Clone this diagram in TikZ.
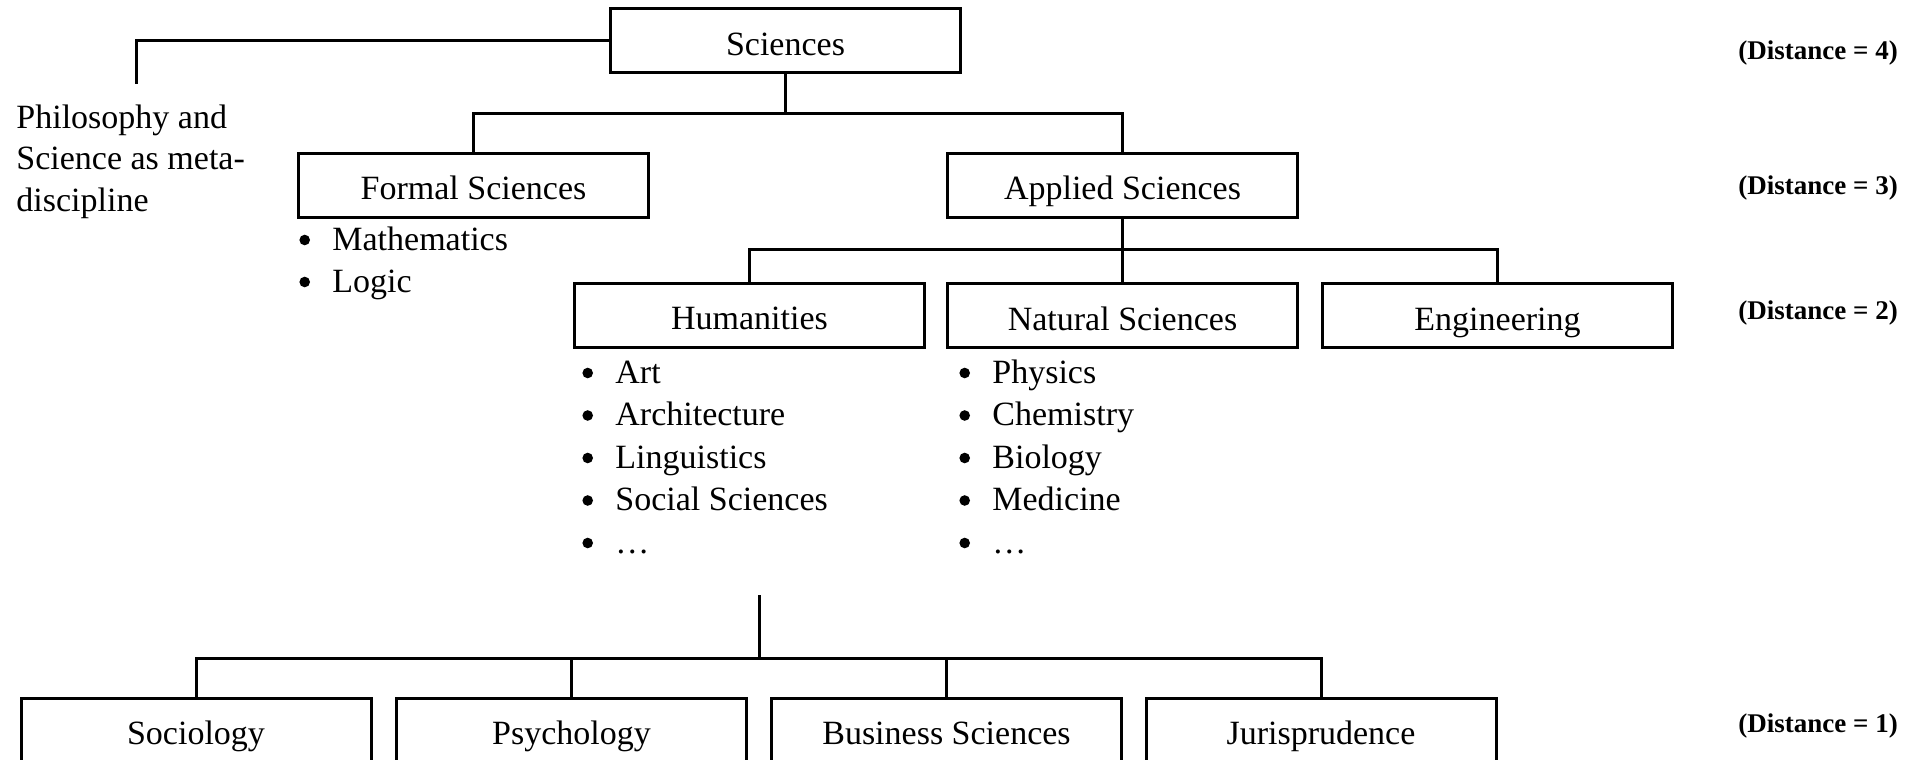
\documentclass[tikz,border=0pt]{standalone}
\usepackage{fontspec}
\setmainfont{Liberation Serif}
\begin{document}
\begin{tikzpicture}[x=0.5pt,y=-0.5pt,
  box/.style={draw, line width=1.5pt, minimum width=175pt, minimum height=32pt, inner sep=0pt,
    font=\fontsize{17}{20}\selectfont, text height=17pt, text depth=2.5pt},
  conn/.style={line width=1.5pt},
  txt/.style={font=\fontsize{17}{20.75}\selectfont, inner sep=0pt, anchor=base west},
  dist/.style={font=\fontsize{13.5}{16}\selectfont\bfseries, inner sep=0pt, anchor=base west}]
\useasboundingbox (0,0) rectangle (1919,760);
\clip (0,0) rectangle (1919,760);

% boxes
\node[box] (sci) at (785.5,40.5) {Sciences};
\node[box] (formal) at (473.5,185) {Formal Sciences};
\node[box] (applied) at (1122.5,185) {Applied Sciences};
\node[box] (hum) at (749.5,315) {Humanities};
\node[box] (nat) at (1122.5,315.5) {Natural Sciences};
\node[box] (eng) at (1497.5,315.5) {Engineering};
\node[box] (soc) at (196,730) {Sociology};
\node[box] (psy) at (571.5,730) {Psychology};
\node[box] (bus) at (946.5,730) {Business Sciences};
\node[box] (jur) at (1321,730) {Jurisprudence};

% philosophy text (anchor = baseline of last line)
\node[txt, align=left] (phil) at (16,211) {Philosophy and\\Science as meta-\\discipline};

% connectors
\coordinate (philend) at (136,84);
\draw[conn] (sci.west) -| (philend);
\coordinate (b1) at (786,113);
\draw[conn] (sci.south) -- (sci.south |- b1);
\draw[conn] (formal.north) |- (applied.north |- b1) -- (applied.north);
\draw[conn] (applied.south) -- (nat.north);
\coordinate (b2) at (0,249);
\draw[conn] (hum.north) |- (eng.north |- b2) -- (eng.north);
\coordinate (btop) at (759,595);
\coordinate (b3) at (759,658);
\draw[conn] (btop) -- (b3);
\draw[conn] (soc.north) |- (jur.north |- b3) -- (jur.north);
\draw[conn] (psy.north) -- (psy.north |- b3);
\draw[conn] (bus.north) -- (bus.north |- b3);

% bullet lists
\newcommand{\bul}{\makebox[16.5pt][l]{\tikz[baseline=0pt]\fill (2.65pt,5pt) circle (2.65pt);}}
\node[txt] (f1) at (299,250) {\bul Mathematics};
\node[txt] (f2) at (299,292) {\bul Logic};

\node[txt] (h1) at (582,383) {\bul Art};
\node[txt] (h2) at (582,425.5) {\bul Architecture};
\node[txt] (h3) at (582,468) {\bul Linguistics};
\node[txt] (h4) at (582,510.5) {\bul Social Sciences};
\node[txt] (h5) at (582,553) {\bul …};

\node[txt] (n1) at (959,383) {\bul Physics};
\node[txt] (n2) at (959,425.5) {\bul Chemistry};
\node[txt] (n3) at (959,468) {\bul Biology};
\node[txt] (n4) at (959,510.5) {\bul Medicine};
\node[txt] (n5) at (959,553) {\bul …};

% distance labels
\node[dist] (d4) at (1738,59) {(Distance = 4)};
\node[dist] (d3) at (1738,194) {(Distance = 3)};
\node[dist] (d2) at (1738,319) {(Distance = 2)};
\node[dist] (d1) at (1738,732) {(Distance = 1)};
\end{tikzpicture}
\end{document}
